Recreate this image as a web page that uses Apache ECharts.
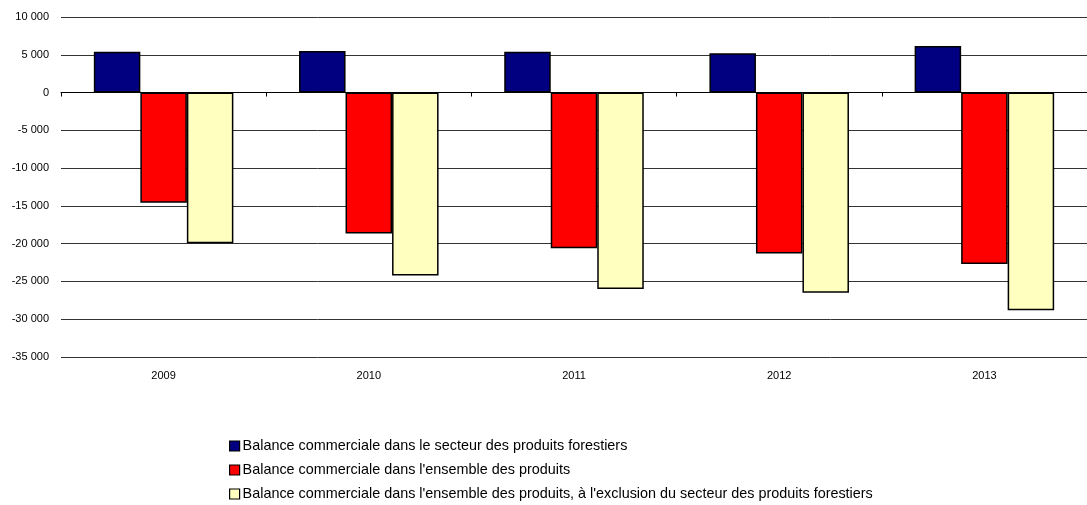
<!DOCTYPE html>
<html><head><meta charset="utf-8">
<script src="https://cdn.jsdelivr.net/npm/echarts@6/dist/echarts.min.js"></script>
<style>html,body{margin:0;padding:0;background:#fff}#c{width:1087px;height:505px}</style>
</head><body><div id="c"></div>
<script>
var categories = ['2009','2010','2011','2012','2013'];
var seriesNames = [
  'Balance commerciale dans le secteur des produits forestiers',
  "Balance commerciale dans l'ensemble des produits",
  "Balance commerciale dans l'ensemble des produits, à l'exclusion du secteur des produits forestiers"
];
var forestry = [5400, 5500, 5400, 5200, 6150];
var allProducts = [-14600, -18650, -20600, -21300, -22700];
var excludingForestry = [-19950, -24200, -26000, -26500, -28800];
var colors = ['#000080', '#FF0000', '#FFFFC0'];

function fmt(v){
  var s = Math.abs(v).toString().replace(/\B(?=(\d{3})+(?!\d))/g, ' ');
  return (v < 0 ? '-' : '') + s;
}
var font = 'Liberation Sans, Arial, sans-serif';
var chart = echarts.init(document.getElementById('c'));
var data = [forestry, allProducts, excludingForestry];
chart.setOption({
  animation: false,
  color: colors,
  textStyle: {fontFamily: font},
  grid: {left: 61, right: 0, top: 17, bottom: 148},
  legend: {
    orient: 'vertical', left: 229, top: 439, height: 200, width: 900, itemGap: 10,
    padding: 0,
    itemWidth: 10, itemHeight: 10, icon: 'rect',
    textStyle: {fontSize: 14.4, color: '#000', fontFamily: font, padding: [0,0,0,-2]},
    itemStyle: {borderColor: '#000', borderWidth: 1.2}
  },
  xAxis: [{
    type: 'category', data: categories, position: 'bottom',
    axisLine: {show: false, onZero: false}, axisTick: {show: false},
    axisLabel: {fontSize: 11, color: '#000', margin: 13}
  }, {
    type: 'category', data: categories, position: 'bottom',
    axisLine: {show: true, onZero: true, lineStyle: {color: '#000', width: 1}},
    axisTick: {show: true, length: 4, lineStyle: {color: '#000'}},
    axisLabel: {show: false}
  }],
  yAxis: {
    type: 'value', min: -35000, max: 10000, interval: 5000,
    axisLine: {show: false}, axisTick: {show: false},
    axisLabel: {fontSize: 11, color: '#000', margin: 12, formatter: fmt},
    splitLine: {lineStyle: {color: '#333', width: 1}}
  },
  series: data.map(function(d, i){
    return {
      name: seriesNames[i], type: 'bar', data: d, xAxisIndex: 0,
      barGap: '0%', barCategoryGap: '32%',
      itemStyle: {color: colors[i], borderColor: '#000', borderWidth: 1.5}
    };
  })
});
</script></body></html>
